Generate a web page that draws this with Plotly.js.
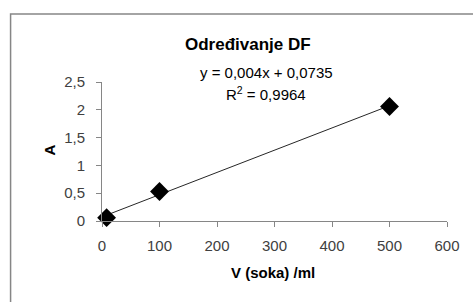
<!DOCTYPE html>
<html><head><meta charset="utf-8">
<script src="https://cdn.plot.ly/plotly-3.0.1.min.js"></script>
<style>html,body{margin:0;padding:0;background:#fff}#c{width:473px;height:302px}</style>
</head><body><div id="c"></div>
<script>
const volumes = [8, 100, 500];
const absorbances = [0.06, 0.53, 2.06];
const trendX = [8, 500];
const trendY = [0.106, 2.074];
const xTicks = [0, 100, 200, 300, 400, 500, 600];
const yTicks = [0, 0.5, 1, 1.5, 2, 2.5];
const yTickText = ['0', '0,5', '1', '1,5', '2', '2,5'];
const chartTitle = 'Određivanje DF';
const eqLine1 = 'y = 0,004x + 0,0735';
const eqLine2 = 'R<sup>2</sup> = 0,9964';
const xTitle = 'V (soka) /ml';
const yTitle = 'A';

const FONT = 'Liberation Sans, Arial, sans-serif';
const data = [
  {x: trendX, y: trendY, mode: 'lines', line: {color: '#262626', width: 1}, hoverinfo: 'skip', showlegend: false},
  {x: volumes, y: absorbances, mode: 'markers', marker: {symbol: 'diamond', size: 14.5, color: '#000'}, cliponaxis: false, showlegend: false}
];
const axisCommon = {showgrid: false, zeroline: false, showline: true, linecolor: '#868686', linewidth: 1,
  ticks: 'outside', ticklen: 5, tickcolor: '#868686', tickfont: {family: FONT, size: 15, color: '#404040'}, fixedrange: true};
const layout = {
  width: 473, height: 302,
  margin: {l: 102, r: 26, t: 82, b: 81},
  paper_bgcolor: '#fff', plot_bgcolor: '#fff',
  separators: ', ',
  xaxis: Object.assign({}, axisCommon, {range: [0, 600], tickvals: xTicks, ticktext: xTicks.map(String), ticklabelstandoff: 6}),
  yaxis: Object.assign({}, axisCommon, {range: [0, 2.5], tickvals: yTicks, ticktext: yTickText, ticklabelstandoff: 8}),
  shapes: [{type: 'rect', xref: 'paper', yref: 'paper', x0: -0.265, x1: 1.3, y0: -1, y1: 1.489,
    line: {color: '#868686', width: 1.5}, fillcolor: 'rgba(0,0,0,0)'}],
  annotations: [
    {text: '<b>' + chartTitle + '</b>', xref: 'paper', yref: 'paper', x: 0.423, y: 1.273, showarrow: false,
      xanchor: 'center', yanchor: 'middle', font: {family: FONT, size: 17, color: '#000'}},
    {text: eqLine1, xref: 'paper', yref: 'paper', x: 0.476, y: 1.065, showarrow: false,
      xanchor: 'center', yanchor: 'middle', font: {family: FONT, size: 15, color: '#000'}},
    {text: eqLine2, xref: 'paper', yref: 'paper', x: 0.476, y: 0.914, showarrow: false,
      xanchor: 'center', yanchor: 'middle', font: {family: FONT, size: 15, color: '#000'}},
    {text: '<b>' + xTitle + '</b>', xref: 'paper', yref: 'paper', x: 0.496, y: -0.367, showarrow: false,
      xanchor: 'center', yanchor: 'middle', font: {family: FONT, size: 15, color: '#000'}},
    {text: '<b>' + yTitle + '</b>', xref: 'paper', yref: 'paper', x: -0.152, y: 0.511, showarrow: false, textangle: -90,
      xanchor: 'center', yanchor: 'middle', font: {family: FONT, size: 15, color: '#000'}}
  ]
};
Plotly.newPlot('c', data, layout, {displayModeBar: false, staticPlot: true});
</script></body></html>
